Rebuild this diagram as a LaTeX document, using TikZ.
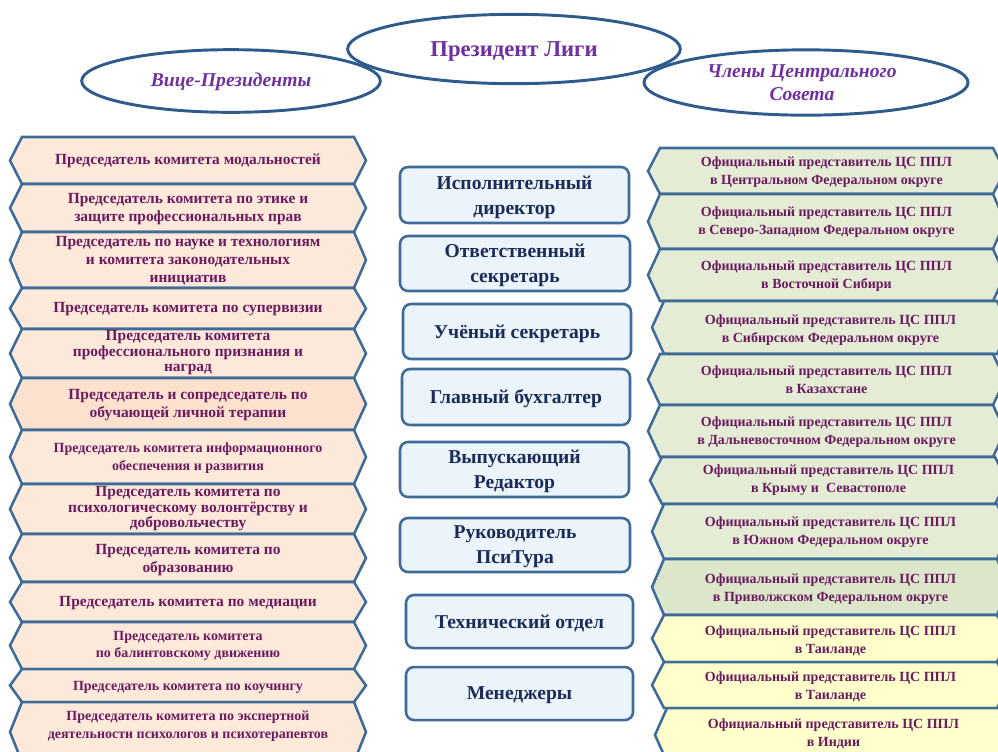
\documentclass[tikz,border=0pt]{standalone}
\usepackage{fontspec}
\setmainfont{Liberation Serif}
\usetikzlibrary{shapes.geometric}
\definecolor{ringblue}{HTML}{2E5B8C}
\definecolor{edgeblue}{HTML}{3E6B98}
\definecolor{peach}{HTML}{FDE9D9}
\definecolor{peachdeep}{HTML}{FCE1CF}
\definecolor{sage}{HTML}{E4ECD5}
\definecolor{sagedeep}{HTML}{DCE6CB}
\definecolor{cream}{HTML}{FFFFCC}
\definecolor{ice}{HTML}{EAF4FA}
\definecolor{plum}{HTML}{6B1A5F}
\definecolor{navy}{HTML}{1B2A58}
\definecolor{violet}{HTML}{7030A0}
\tikzset{
  hexline/.style={draw=edgeblue, line width=1.9pt, line join=miter},
  ring/.style={ellipse, draw=ringblue, line width=2.2pt, inner sep=0pt, text=violet, align=center},
  lt/.style={align=center, text=plum, inner sep=0pt, font=\bfseries\fontsize{11.6}{13.6}\selectfont},
  ltt/.style={align=center, text=plum, inner sep=0pt, font=\bfseries\fontsize{11.6}{11.6}\selectfont},
  ls/.style={align=center, text=plum, inner sep=0pt, font=\bfseries\fontsize{10.5}{13.2}\selectfont},
  rt/.style={align=center, text=plum, inner sep=0pt, font=\bfseries\fontsize{10.5}{13.3}\selectfont},
  midline/.style={draw=edgeblue, line width=1.9pt, fill=ice, rounded corners=6pt},
  mt/.style={align=center, text=navy, inner sep=0pt, font=\bfseries\fontsize{14.7}{18.8}\selectfont},
}
% #1 name, #2 x left tip, #3 x right tip, #4 y top, #5 y bottom, #6 fill, #7 text style, #8 text y, #9 text
\newcommand{\hexb}[9]{%
  \draw[hexline, fill=#6] (#2,{(#4+#5)/2}) -- ({#2+12},#4) -- ({#3-12},#4) -- (#3,{(#4+#5)/2}) -- ({#3-12},#5) -- ({#2+12},#5) -- cycle;
  \node[#7] (#1) at ({(#2+#3)/2},#8) {#9};
}
% #1 name, #2 x1, #3 y1, #4 x2, #5 y2, #6 text
\newcommand{\midb}[6]{%
  \draw[midline] (#2,#3) rectangle (#4,#5);
  \node[mt] (#1) at ({(#2+#4)/2},{(#3+#5)/2+2}) {#6};
}
\begin{document}
\begin{tikzpicture}[x=0.75pt, y=-0.75pt]
\useasboundingbox (0,0) rectangle (998,751);
\fill[white] (0,0) rectangle (998,751);

% top ellipses
\node[ring, minimum width=224pt, minimum height=47pt] (vice) at (231,81) {};
\node[ring, minimum width=243pt, minimum height=49pt] (council) at (806,82.5) {};
\node[ring, minimum width=249.5pt, minimum height=52pt] (pres) at (514,49) {};
\node[text=violet, font=\bfseries\fontsize{17}{20}\selectfont, inner sep=0pt] (prest) at (514,51) {Президент Лиги};
\node[text=violet, font=\bfseries\itshape\fontsize{14.7}{18}\selectfont, inner sep=0pt] (vicet) at (231,82) {Вице-Президенты};
\node[text=violet, align=center, font=\bfseries\itshape\fontsize{14.7}{17.3}\selectfont, inner sep=0pt] (councilt) at (802,83) {Члены Центрального\\Совета};

% left column
\hexb{l1}{10}{366}{137}{184}{peach}{lt}{161}{Председатель комитета модальностей}
\hexb{l2}{10}{366}{184}{232}{peach}{lt}{209}{Председатель комитета по этике и\\защите профессиональных прав}
\hexb{l3}{10}{366}{232}{288}{peach}{lt}{261}{Председатель по науке и технологиям\\и комитета законодательных\\инициатив}
\hexb{l4}{10}{366}{288}{329}{peach}{lt}{309}{Председатель комитета по супервизии}
\hexb{l5}{10}{366}{329}{378}{peach}{ltt}{353}{Председатель комитета\\профессионального признания и\\наград}
\hexb{l6}{10}{366}{378}{430}{peachdeep}{lt}{405}{Председатель и сопредседатель по\\обучающей личной терапии}
\hexb{l7}{10}{366}{430}{484}{peach}{ls}{458}{Председатель комитета информационного\\обеспечения и развития}
\hexb{l8}{10}{366}{484}{534}{peach}{ltt}{509}{Председатель комитета по\\психологическому волонтёрству и\\добровольчеству}
\hexb{l9}{10}{366}{534}{582}{peach}{lt}{560}{Председатель комитета по\\образованию}
\hexb{l10}{10}{366}{582}{622}{peach}{lt}{603}{Председатель комитета по медиации}
\hexb{l11}{10}{366}{622}{669}{peach}{ls}{646}{Председатель комитета\\по балинтовскому движению}
\hexb{l12}{10}{366}{669}{702}{peach}{ls}{687}{Председатель комитета по коучингу}
\hexb{l13}{10}{366}{702}{762}{peach}{ls}{726}{Председатель комитета по экспертной\\деятельности психологов и психотерапевтов}

% middle column
\midb{m1}{400}{167}{629}{223}{Исполнительный\\директор}
\midb{m2}{400}{236}{630}{291}{Ответственный\\секретарь}
\midb{m3}{403}{304}{631}{359}{Учёный секретарь}
\midb{m4}{402}{369}{630}{425}{Главный бухгалтер}
\midb{m5}{400}{442}{629}{497}{Выпускающий\\Редактор}
\midb{m6}{400}{518}{630}{572}{Руководитель\\ПсиТура}
\midb{m7}{406}{595}{633}{648}{Технический отдел}
\midb{m8}{406}{667}{633}{720}{Менеджеры}

% right column
\hexb{r1}{648}{1005}{148}{194}{sage}{rt}{172}{Официальный представитель ЦС ППЛ\\в Центральном Федеральном округе}
\hexb{r2}{648}{1005}{194}{249}{sage}{rt}{222.5}{Официальный представитель ЦС ППЛ\\в Северо-Западном Федеральном округе}
\hexb{r3}{648}{1005}{249}{301}{sage}{rt}{276}{Официальный представитель ЦС ППЛ\\в Восточной Сибири}
\hexb{r4}{652}{1009}{301}{354}{sage}{rt}{330}{Официальный представитель ЦС ППЛ\\в Сибирском Федеральном округе}
\hexb{r5}{648}{1005}{354}{405}{sage}{rt}{379.5}{Официальный представитель ЦС ППЛ\\в Казахстане}
\hexb{r6}{648}{1005}{405}{457}{sage}{rt}{432.5}{Официальный представитель ЦС ППЛ\\в Дальневосточном Федеральном округе}
\hexb{r7}{650}{1007}{457}{504}{sage}{rt}{480.5}{Официальный представитель ЦС ППЛ\\в Крыму и\ \ Севастополе}
\hexb{r8}{652}{1009}{504}{559}{sage}{rt}{532}{Официальный представитель ЦС ППЛ\\в Южном Федеральном округе}
\hexb{r9}{652}{1009}{559}{615}{sagedeep}{rt}{589.5}{Официальный представитель ЦС ППЛ\\в Приволжском Федеральном округе}
\hexb{r10}{652}{1009}{615}{662}{cream}{rt}{640.5}{Официальный представитель ЦС ППЛ\\в Таиланде}
\hexb{r11}{652}{1009}{662}{708}{cream}{rt}{686.5}{Официальный представитель ЦС ППЛ\\в Таиланде}
\hexb{r12}{655}{1012}{708}{762}{cream}{rt}{734}{Официальный представитель ЦС ППЛ\\в Индии}
\end{tikzpicture}
\end{document}
